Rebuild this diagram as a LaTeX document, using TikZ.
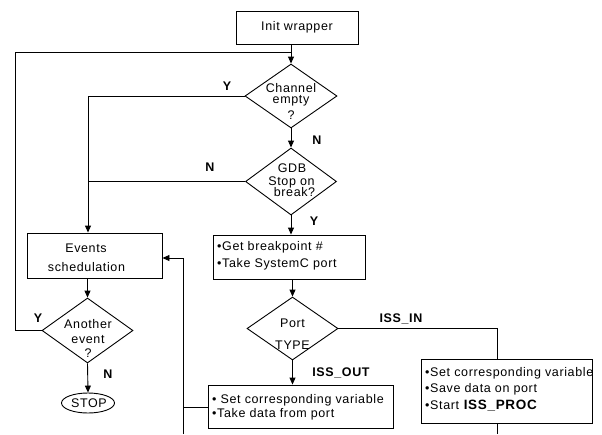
\documentclass[tikz,border=0pt]{standalone}
\usepackage{fontspec}
\setmainfont{Liberation Sans}[LetterSpace=5]
\usetikzlibrary{shapes.geometric,arrows.meta}
\begin{document}
\begin{tikzpicture}[x=1pt,y=-1pt,
  every node/.style={font=\fontsize{12.5}{13}\selectfont},
  line/.style={draw=black,line width=0.9pt},
  arr/.style={line,-{Triangle[length=7pt,width=6pt]}},
  boxnode/.style={draw=black,line width=0.9pt,rectangle,inner sep=0pt},
  decision/.style={draw=black,line width=0.9pt,diamond,inner sep=0pt},
  txt/.style={inner sep=0pt,anchor=center},
  ltxt/.style={inner sep=0pt,anchor=west},
  lbl/.style={inner sep=0pt,font=\fontsize{12.5}{13}\selectfont\bfseries}]
\useasboundingbox (0,0) rectangle (602,434);
% boxes
\node[boxnode,minimum width=122pt,minimum height=33pt] (init) at (297,27.5) {};
\node[txt] (initT) at (297,27.5) {Init wrapper};
\node[decision,minimum width=92pt,minimum height=64pt] (ch) at (291,96) {};
\node[txt] (chA) at (291,88) {Channel};
\node[txt] (chB) at (291,101) {empty};
\node[txt] (chC) at (291,115) {?};
\node[decision,minimum width=91pt,minimum height=67pt] (gdb) at (291,181.5) {};
\node[txt] (gdbA) at (292,168) {GDB};
\node[txt] (gdbB) at (291.5,182) {Stop on};
\node[txt] (gdbC) at (294.5,192) {break?};
\node[boxnode,minimum width=152pt,minimum height=44pt] (gbp) at (289,257) {};
\node[ltxt] (gbpA) at (217,247) {\textbullet Get breakpoint \#};
\node[ltxt] (gbpB) at (217,264) {\textbullet Take SystemC port};
\node[decision,minimum width=91pt,minimum height=63pt] (port) at (292.5,328.5) {};
\node[txt] (portA) at (292.5,323) {Port};
\node[txt] (portB) at (292.5,345) {TYPE};
\node[boxnode,minimum width=185pt,minimum height=43pt] (out) at (300.5,406.5) {};
\node[ltxt] (outA) at (212,400) {\textbullet{} Set corresponding variable};
\node[ltxt] (outB) at (212,414) {\textbullet Take data from port};
\node[boxnode,minimum width=171pt,minimum height=64pt] (in) at (506.5,391) {};
\node[ltxt] (inA) at (425,373) {\textbullet Set corresponding variable};
\node[ltxt] (inB) at (425,389) {\textbullet Save data on port};
\node[ltxt] (inC) at (425,406) {\textbullet Start \textbf{\fontsize{13.5}{14}\selectfont ISS\_PROC}};
\node[boxnode,minimum width=135pt,minimum height=45pt] (ev) at (94.5,255.5) {};
\node[txt] (evA) at (86,248) {Events};
\node[txt] (evB) at (86.5,267) {schedulation};
\node[decision,minimum width=91pt,minimum height=65pt] (ae) at (87.5,330.5) {};
\node[txt] (aeA) at (88,324) {Another};
\node[txt] (aeB) at (88,340) {event};
\node[txt] (aeC) at (88,353) {?};
\node[draw=black,line width=0.9pt,ellipse,minimum width=53pt,minimum height=20pt,inner sep=0pt] (stop) at (88,403) {};
\node[txt] (stopT) at (89,403) {STOP};
% coordinates
\coordinate (loopL) at (15,52);
\coordinate (jn) at (291,52);
\coordinate (leftV) at (88,96);
\coordinate (retX) at (183,407);
\coordinate (retB) at (183,434);
\coordinate (retT) at (183,258);
\coordinate (inR) at (497,328.5);
\coordinate (inB2) at (497,434);
% connectors
\draw[arr] (init.south -| ch.north) -- (ch.north);
\draw[arr] (ch.south) -- (gdb.north);
\draw[arr] (gdb.south) -- (gbp.north -| gdb.south);
\draw[arr] (gbp.south -| port.north) -- (port.north);
\draw[arr] (port.south) -- (out.north -| port.south);
\draw[line] (ch.west) -- (leftV);
\draw[arr] (leftV) -- (ev.north -| leftV);
\draw[line] (gdb.west) -- (gdb.west -| leftV);
\draw[arr] (ev.south -| ae.north) -- (ae.north);
\draw[arr] (ae.south) -- (stop.north);
\draw[line] (ae.west) -| (loopL) -- (jn);
\draw[line] (out.west |- retX) -- (retX);
\draw[line] (retB) -- (retT);
\draw[arr] (retT) -- (ev.east |- retT);
\draw[line] (port.east) -- (inR) -- (in.north -| inR);
\draw[line] (in.south -| inR) -- (inB2);
% labels
\node[lbl] (lY1) at (227,86) {Y};
\node[lbl] (lN1) at (317,140) {N};
\node[lbl] (lN2) at (210,167) {N};
\node[lbl] (lY2) at (314,221) {Y};
\node[lbl] (lY3) at (38,318) {Y};
\node[lbl] (lN3) at (108,374) {N};
\node[lbl] (lIN) at (401,319) {ISS\_IN};
\node[lbl] (lOUT) at (341,373) {ISS\_OUT};
\end{tikzpicture}
\end{document}
